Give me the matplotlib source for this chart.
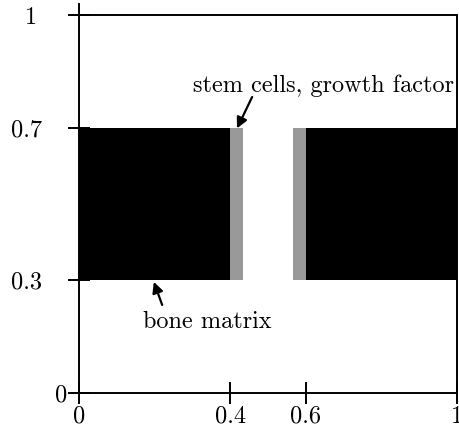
import matplotlib
matplotlib.use("Agg")
import matplotlib.pyplot as plt

# données : zones de l'os et des cellules souches (x début, x fin), bande en y
bone_start = [0.0, 0.6]
bone_end = [0.4, 1.0]
cell_start = [0.4, 0.565]
cell_end = [0.435, 0.6]
band_low = 0.3
band_high = 0.7

x_ticks = [0, 0.4, 0.6, 1]
x_labels = ["0", "0.4", "0.6", "1"]
y_ticks = [0, 0.3, 0.7, 1]
y_labels = ["0", "0.3", "0.7", "1"]

plt.rcParams['font.family'] = ['cmr10', 'DejaVu Serif']
plt.rcParams['mathtext.fontset'] = 'cm'
plt.rcParams['axes.formatter.use_mathtext'] = True

fig = plt.figure(figsize=(4.59, 4.24), dpi=100)
ax = fig.add_axes([79 / 459, 31 / 424, 378 / 459, 378 / 424])

# matrice osseuse (noir) et cellules souches (gris)
ax.broken_barh([(s, e - s) for s, e in zip(bone_start, bone_end)],
               (band_low, band_high - band_low), facecolors='black', linewidth=0)
ax.broken_barh([(s, e - s) for s, e in zip(cell_start, cell_end)],
               (band_low, band_high - band_low), facecolors='0.6', linewidth=0)

ax.set_xlim(0, 1)
ax.set_ylim(0, 1)

for sp in ax.spines.values():
    sp.set_linewidth(1.4)
ax.spines['left'].set_bounds(0, 1.03)

ax.set_xticks(x_ticks)
ax.set_xticklabels(x_labels, fontsize=17.5)
ax.set_yticks(y_ticks)
ax.set_yticklabels([])
ax.tick_params(axis='both', direction='inout', length=16, width=1.4, pad=1)

# étiquettes de l'axe y placées à la main
y_offsets = [-12, -37, -37, -42]
for v, lab, dx in zip(y_ticks, y_labels, y_offsets):
    ax.annotate(lab, xy=(0, v), xycoords=('axes fraction', 'data'),
                xytext=(dx, 0), textcoords='offset pixels',
                ha='right', va='center_baseline', fontsize=17.5,
                annotation_clip=False)

# annotations
ax.annotate('', xy=(0.418, 0.70), xytext=(0.458, 0.783),
            arrowprops=dict(arrowstyle='-|>', color='black', lw=1.6,
                            mutation_scale=16, shrinkA=0, shrinkB=0))
ax.text(0.302, 0.796, 'stem cells, growth factor', ha='left', va='baseline',
        fontsize=17.5)

ax.annotate('', xy=(0.198, 0.294), xytext=(0.220, 0.233),
            arrowprops=dict(arrowstyle='-|>', color='black', lw=1.6,
                            mutation_scale=16, shrinkA=0, shrinkB=0))
ax.text(0.169, 0.172, 'bone matrix', ha='left', va='baseline', fontsize=17.5)

fig.savefig('out.png', dpi=100)
